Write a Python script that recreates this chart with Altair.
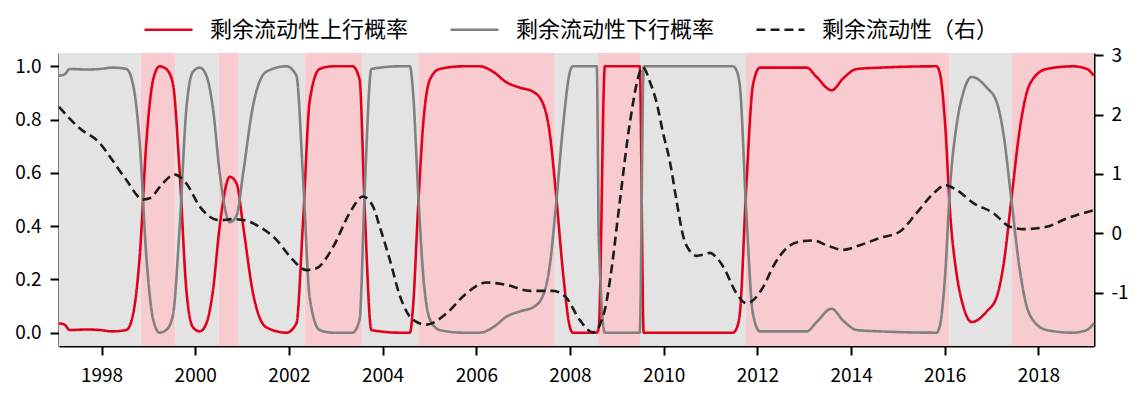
import altair as alt
import pandas as pd

# ---------------- data ----------------
prob_dates = [
    "1997-02-03", "1997-03-19", "1997-04-27", "1997-09-05", "1997-12-18",
    "1998-03-27", "1998-07-13", "1998-09-04", "1998-10-25", "1998-12-17",
    "1999-02-07", "1999-03-29", "1999-05-20", "1999-07-11", "1999-09-02", "1999-10-24", "1999-12-15",
    "2000-02-06", "2000-03-28", "2000-05-19", "2000-07-10", "2000-09-27", "2000-11-19",
    "2001-01-09", "2001-03-26", "2001-07-09", "2001-12-13",
    "2002-02-28", "2002-04-20", "2002-06-12", "2002-08-28", "2002-12-09",
    "2003-05-12", "2003-07-06", "2003-08-14", "2003-10-06",
    "2004-05-14", "2004-08-01", "2004-08-26", "2004-10-04", "2004-11-13",
    "2005-01-04", "2005-03-21", "2005-09-20",
    "2006-01-29", "2006-05-11", "2006-08-24", "2006-12-06",
    "2007-03-19", "2007-06-05", "2007-07-27", "2007-09-18", "2007-11-09",
    "2008-01-01", "2008-01-24", "2008-07-28", "2008-08-13", "2008-09-29",
    "2009-06-28", "2009-07-29",
    "2011-06-24", "2011-07-17", "2011-08-17", "2011-10-07", "2011-11-28",
    "2012-01-21", "2013-01-20", "2013-04-07", "2013-08-02", "2013-11-01",
    "2014-02-14", "2014-08-14", "2015-10-29", "2015-11-26",
    "2016-01-04", "2016-02-12", "2016-04-03", "2016-05-24", "2016-07-29", "2016-11-24",
    "2017-02-10", "2017-04-02", "2017-06-06", "2017-08-10", "2017-10-27",
    "2018-03-05", "2018-09-28", "2019-01-13", "2019-03-08",
]
up_prob = [
    0.035, 0.03, 0.01, 0.012, 0.01,
    0.005, 0.01, 0.07, 0.285, 0.72,
    0.95, 1.0, 0.99, 0.935, 0.6, 0.16, 0.02,
    0.005, 0.035, 0.16, 0.40, 0.585, 0.56,
    0.40, 0.15, 0.02, 0.0,
    0.035, 0.41, 0.87, 0.99, 1.0,
    1.0, 0.95, 0.47, 0.01,
    0.0, 0.0, 0.10, 0.47, 0.785,
    0.95, 0.99, 1.0,
    1.0, 0.98, 0.94, 0.92,
    0.905, 0.86, 0.75, 0.50, 0.22,
    0.02, 0.0, 0.0, 0.02, 1.0,
    1.0, 0.0,
    0.0, 0.01, 0.07, 0.55, 0.93,
    0.995, 0.995, 0.96, 0.91, 0.955,
    0.99, 0.995, 1.0, 0.97,
    0.785, 0.45, 0.22, 0.10, 0.04, 0.08,
    0.135, 0.25, 0.51, 0.77, 0.935,
    0.99, 1.0, 0.99, 0.965,
]
down_prob = [
    0.965, 0.97, 0.99, 0.988, 0.99,
    0.995, 0.99, 0.93, 0.715, 0.28,
    0.05, 0.0, 0.01, 0.065, 0.4, 0.84, 0.98,
    0.995, 0.965, 0.84, 0.60, 0.415, 0.44,
    0.60, 0.85, 0.98, 1.0,
    0.965, 0.59, 0.13, 0.01, 0.0,
    0.0, 0.05, 0.53, 0.99,
    1.0, 1.0, 0.90, 0.53, 0.215,
    0.05, 0.01, 0.0,
    0.0, 0.02, 0.06, 0.08,
    0.095, 0.14, 0.25, 0.50, 0.78,
    0.98, 1.0, 1.0, 0.35, 0.0,
    0.0, 1.0,
    1.0, 0.99, 0.93, 0.45, 0.07,
    0.005, 0.005, 0.04, 0.09, 0.045,
    0.01, 0.005, 0.0, 0.03,
    0.215, 0.55, 0.78, 0.90, 0.96, 0.92,
    0.865, 0.75, 0.49, 0.23, 0.065,
    0.01, 0.0, 0.01, 0.035,
]

liq_dates = [
    "1997-02-03", "1997-07-14", "1997-12-18", "1998-03-27", "1998-07-13", "1998-11-20",
    "1999-01-11", "1999-04-22", "1999-07-24", "1999-10-24", "2000-02-06", "2000-04-23",
    "2000-07-10", "2000-10-22", "2001-01-22", "2001-05-16", "2001-09-26", "2002-01-08",
    "2002-05-17", "2002-08-03", "2002-12-11", "2003-04-19", "2003-08-01", "2003-10-19",
    "2003-12-10", "2004-02-27", "2004-05-14", "2004-08-26", "2004-12-09", "2005-05-13",
    "2005-10-17", "2006-03-20", "2006-08-24", "2007-02-23", "2007-08-22", "2007-12-05",
    "2008-03-17", "2008-06-29", "2008-09-29", "2008-11-08", "2009-01-25", "2009-04-11",
    "2009-07-24", "2009-09-16", "2009-11-07", "2009-12-26", "2010-02-19", "2010-04-11",
    "2010-06-02", "2010-07-24", "2010-09-17", "2010-11-05", "2010-12-28", "2011-02-13",
    "2011-04-09", "2011-07-22", "2011-10-09", "2012-02-17", "2012-05-03", "2012-08-16",
    "2012-11-28", "2013-03-11", "2013-06-24", "2013-11-01", "2014-03-10", "2014-08-14",
    "2015-01-17", "2015-05-26", "2015-10-04", "2016-01-04", "2016-04-03", "2016-08-11",
    "2017-01-15", "2017-05-23", "2017-09-05", "2018-03-05", "2018-08-09", "2019-03-08",
]
liq_vals = [
    2.13, 1.77, 1.52, 1.23, 0.90, 0.57,
    0.59, 0.84, 0.99, 0.84, 0.45, 0.28,
    0.22, 0.24, 0.22, 0.11, -0.11, -0.39,
    -0.62, -0.59, -0.23, 0.34, 0.62, 0.45,
    0.11, -0.45, -1.05, -1.46, -1.54, -1.35,
    -1.01, -0.83, -0.87, -0.97, -0.97, -1.09,
    -1.46, -1.67, -1.29, -0.79, 0.56, 1.85,
    2.80, 2.55, 2.2, 1.7, 1.2, 0.55,
    -0.05, -0.30, -0.38, -0.36, -0.33, -0.40,
    -0.56, -1.01, -1.18, -0.90, -0.56, -0.25,
    -0.14, -0.12, -0.20, -0.28, -0.20, -0.08,
    0.03, 0.34, 0.67, 0.81, 0.73, 0.51,
    0.34, 0.11, 0.07, 0.11, 0.25, 0.39,
]

regime_start = ["1997-02-03", "1998-11-03", "1999-07-29", "2000-07-03", "2000-12-01",
                "2002-05-03", "2003-07-27", "2004-10-05", "2007-09-05", "2008-08-08",
                "2009-07-06", "2011-10-04", "2016-02-07", "2017-06-06"]
regime_end = ["1998-11-03", "1999-07-29", "2000-07-03", "2000-12-01", "2002-05-03",
              "2003-07-27", "2004-10-05", "2007-09-05", "2008-08-08", "2009-07-06",
              "2011-10-04", "2016-02-07", "2017-06-06", "2019-03-10"]
regime_type = ["down", "up", "down", "up", "down", "up", "down",
               "up", "down", "up", "down", "up", "down", "up"]

S_UP = "剩余流动性上行概率"
S_DN = "剩余流动性下行概率"
S_LIQ = "剩余流动性（右）"
series_names = [S_UP, S_DN, S_LIQ]

n = len(prob_dates)
prob_df = pd.DataFrame({
    "date": prob_dates + prob_dates,
    "value": up_prob + down_prob,
    "series": [S_UP] * n + [S_DN] * n,
})
liq_df = pd.DataFrame({"date": liq_dates, "value": liq_vals, "series": S_LIQ})
reg_df = pd.DataFrame({"start": regime_start, "end": regime_end, "regime": regime_type})

# ---------------- style ----------------
FONT = "Noto Sans CJK SC"
W, H = 1035, 293

x_scale = alt.Scale(domain=[alt.DateTime(year=1997, month=2, date=3),
                            alt.DateTime(year=2019, month=3, date=10)])
x_axis = alt.Axis(
    title=None, format="%Y", labelAngle=0,
    values=[alt.DateTime(year=y, month=1, date=1) for y in range(1998, 2019, 2)],
    labelFont=FONT, labelFontSize=19, labelColor="#000",
    tickSize=9, tickWidth=2, tickColor="#000",
    domainColor="#000", domainWidth=2, labelPadding=11, grid=False,
)
left_axis = alt.Axis(
    title=None, orient="left", values=[0, 0.2, 0.4, 0.6, 0.8, 1.0], format=".1f",
    labelFont=FONT, labelFontSize=19, labelColor="#000",
    tickSize=9, tickWidth=2, tickColor="#000",
    domainColor="#000", domainWidth=2, labelPadding=9, grid=False,
)
right_axis = alt.Axis(
    title=None, orient="right", values=[-1, 0, 1, 2, 3],
    labelExpr="'' + datum.value",
    labelFont=FONT, labelFontSize=19, labelColor="#000",
    tickSize=9, tickWidth=2, tickColor="#000",
    domainColor="#000", domainWidth=2, labelPadding=8, grid=False,
)

color_scale = alt.Scale(domain=series_names, range=["#e3001b", "#818181", "#1c1c1c"])
dash_scale = alt.Scale(domain=series_names, range=[[1, 0], [1, 0], [9, 5]])
legend = alt.Legend(
    title=None, orient="none", legendX=84, legendY=-49, direction="horizontal",
    columns=3, symbolType="stroke", symbolSize=2304, symbolStrokeWidth=2.6,
    labelFont=FONT, labelFontSize=22, labelColor="#000", labelOffset=16,
    columnPadding=36, padding=0, labelLimit=400,
)

shade = alt.Chart(reg_df).mark_rect().encode(
    x=alt.X("start:T", scale=x_scale, axis=x_axis),
    x2="end:T",
    y=alt.value(0),
    y2=alt.value(H),
    fill=alt.Fill("regime:N", scale=alt.Scale(domain=["down", "up"],
                                              range=["#e3e3e3", "#f7cbcf"]), legend=None),
)

prob_lines = alt.Chart(prob_df).mark_line(strokeWidth=2.6, interpolate="monotone").encode(
    x=alt.X("date:T", scale=x_scale, axis=x_axis),
    y=alt.Y("value:Q", scale=alt.Scale(domain=[-0.05, 1.05], nice=False, zero=False),
            axis=left_axis),
    color=alt.Color("series:N", scale=color_scale, legend=legend),
    strokeDash=alt.StrokeDash("series:N", scale=dash_scale, legend=legend),
    order=alt.Order("date:T"),
)

liq_line = alt.Chart(liq_df).mark_line(strokeWidth=2.6, interpolate="monotone").encode(
    x=alt.X("date:T", scale=x_scale, axis=x_axis),
    y=alt.Y("value:Q", scale=alt.Scale(domain=[-1.9, 3.04], nice=False, zero=False),
            axis=right_axis),
    color=alt.Color("series:N", scale=color_scale, legend=legend),
    strokeDash=alt.StrokeDash("series:N", scale=dash_scale, legend=legend),
)

chart = (
    alt.layer(shade, prob_lines, liq_line)
    .resolve_scale(y="independent")
    .properties(
        width=W, height=H,
        autosize=alt.AutoSizeParams(type="none"),
        padding={"left": 51, "top": 45, "right": 38, "bottom": 40},
        background="white",
    )
    .configure_view(stroke=None)
)

chart.save("out.html", embed_options={"renderer": "svg", "actions": False})
